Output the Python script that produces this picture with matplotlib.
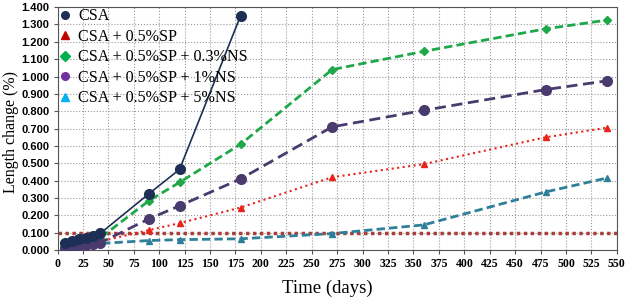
import matplotlib.pyplot as plt
from matplotlib.lines import Line2D

# ages (days) and length change (%) per mix
days = [7, 14, 21, 28, 35, 42, 90, 120, 180, 270, 360, 480, 540]
days_csa = [7, 14, 21, 28, 35, 42, 90, 120, 180]

csa = [0.042, 0.050, 0.062, 0.070, 0.080, 0.096, 0.325, 0.465, 1.350]
sp = [0.030, 0.035, 0.040, 0.043, 0.046, 0.050, 0.115, 0.155, 0.245,
      0.420, 0.495, 0.650, 0.705]
ns03 = [0.030, 0.038, 0.045, 0.052, 0.060, 0.070, 0.285, 0.390, 0.610,
        1.040, 1.145, 1.275, 1.325]
ns1 = [0.012, 0.020, 0.027, 0.032, 0.037, 0.042, 0.180, 0.255, 0.410,
       0.710, 0.805, 0.925, 0.975]
ns5 = [0.028, 0.030, 0.032, 0.034, 0.036, 0.038, 0.055, 0.060, 0.065,
       0.095, 0.145, 0.335, 0.415]

labels = ["CSA", "CSA + 0.5%SP", "CSA + 0.5%SP + 0.3%NS",
          "CSA + 0.5%SP + 1%NS", "CSA + 0.5%SP + 5%NS"]
limit = 0.1

fig = plt.figure(figsize=(6.25, 2.97), dpi=100)
ax = fig.add_axes([0.092, 0.158, 0.895, 0.818])

ax.plot(days_csa, csa, "-o", color="#1d2f55", lw=1.2, ms=7, zorder=5)
ax.plot(days, sp, ":^", color="#e8241c", lw=1.5, ms=5, zorder=4)
ax.plot(days, ns03, "--D", color="#1fa84a", lw=2, ms=4.5, dashes=(3, 1.5), zorder=4)
ax.plot(days, ns1, "--o", color="#4a3b6e", lw=2, ms=7, dashes=(4, 2), zorder=4)
ax.plot(days, ns5, "--^", color="#2e7f99", lw=2, ms=5, dashes=(3, 1.5), zorder=3)
ax.axhline(limit, color="#a8403a", lw=2.5, ls=(0, (1, 1)), zorder=2)

ax.set_xlim(0, 550)
ax.set_ylim(0, 1.4)
ax.set_xticks(range(0, 551, 25))
ax.set_yticks([i / 10 for i in range(15)])
ax.set_yticklabels([f"{i / 10:.3f}" for i in range(15)],
                   fontsize=8, fontweight="bold", family="Liberation Sans")
ax.set_xticklabels([str(v) for v in range(0, 551, 25)],
                   fontsize=8.5, fontweight="bold", family="Liberation Serif")
ax.tick_params(length=3, width=0.8, color="#555555", pad=3)
ax.grid(color="#999999", ls=":", lw=0.8)
for s in ax.spines.values():
    s.set_color("#555555")
    s.set_linewidth(0.8)

ax.set_xlabel("Time (days)", family="Liberation Serif", fontsize=13.5)
ax.xaxis.set_label_coords(0.483, -0.12)
ax.set_ylabel("Length change (%)", family="Liberation Serif", fontsize=11.5)
ax.yaxis.set_label_coords(-0.068, 0.485)

legend_colors = ["#1d2f55", "#c00000", "#00b050", "#7030a0", "#00b0f0"]
legend_marks = ["o", "^", "D", "o", "^"]
handles = [Line2D([], [], ls="none", marker=m, color=c, ms=5.5)
           for m, c in zip(legend_marks, legend_colors)]
ax.legend(handles, labels, loc="upper left", frameon=False,
          prop={"family": "Liberation Serif", "size": 11.6},
          labelspacing=0.28, handletextpad=0.35, handlelength=1.0,
          borderaxespad=0.0, bbox_to_anchor=(-0.013, 1.022))

fig.savefig("out.png", dpi=100)
